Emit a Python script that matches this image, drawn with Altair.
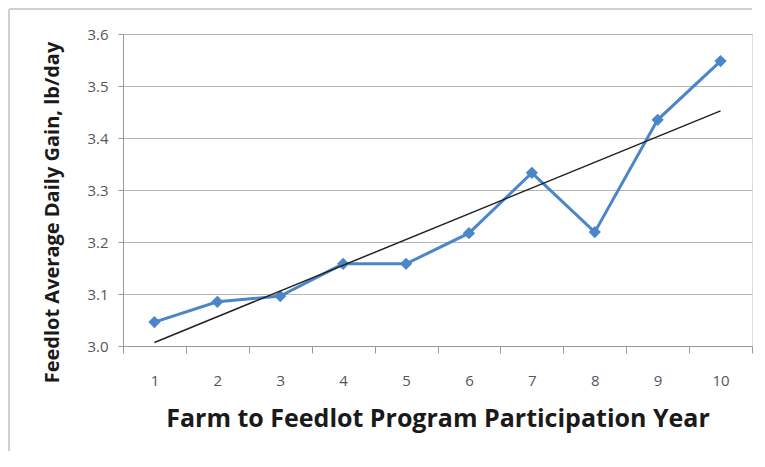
import altair as alt
import pandas as pd

years = [1, 2, 3, 4, 5, 6, 7, 8, 9, 10]
gain = [3.046, 3.085, 3.096, 3.158, 3.158, 3.217, 3.333, 3.219, 3.435, 3.548]
y_ticks = [3.0, 3.1, 3.2, 3.3, 3.4, 3.5, 3.6]

df = pd.DataFrame({"year": years, "gain": gain})

W, H = 629, 312
FONT = "Open Sans"

x_enc = alt.X(
    "year:O",
    scale=alt.Scale(type="band", paddingInner=0, paddingOuter=0),
    axis=alt.Axis(
        title="Farm to Feedlot Program Participation Year",
        titleFontSize=25, titleFont=FONT, titleFontWeight="bold", titleColor="#1a1a1a",
        titlePadding=18,
        labelAngle=0, labelFont=FONT, labelFontSize=15, labelColor="#555560",
        labelPadding=20, tickBand="extent", tickSize=7, tickColor="#999999",
        domainColor="#999999", grid=False,
    ),
)
y_enc = alt.Y(
    "gain:Q",
    scale=alt.Scale(domain=[3.0, 3.6], nice=False, zero=False),
    axis=alt.Axis(
        title="Feedlot Average Daily Gain, lb/day",
        titleFontSize=20, titleFont=FONT, titleFontWeight="bold", titleColor="#1a1a1a",
        titlePadding=24, titleY=H / 2 + 22,
        values=y_ticks, format=".1f", labelFont=FONT, labelFontSize=15,
        labelColor="#555560", labelPadding=10, tickSize=5, tickColor="#999999",
        domainColor="#999999", grid=True, gridColor="#b5b5b5",
    ),
)

line = alt.Chart(df).mark_line(
    color="#4A86C8", strokeWidth=3,
    point=alt.OverlayMarkDef(shape="diamond", size=150, filled=True, color="#4A86C8"),
).encode(x=x_enc, y=y_enc)

trend = alt.Chart(df).transform_regression("year", "gain", method="linear").mark_line(
    color="#222222", strokeWidth=1.5
).encode(x=alt.X("year:O"), y=alt.Y("gain:Q"))

frame_top = alt.Chart(df).mark_rule(color="#d0d0d0", strokeWidth=2).encode(
    x=alt.value(-114), x2=alt.value(W), y=alt.value(-25)
)
frame_left = alt.Chart(df).mark_rule(color="#d0d0d0", strokeWidth=2).encode(
    x=alt.value(-114), y=alt.value(-25), y2=alt.value(H + 105)
)

chart = alt.layer(frame_top, frame_left, line, trend).properties(
    width=W, height=H, padding=0
).configure_view(stroke=None).configure(background="white")

chart.save("out.html", embed_options={"renderer": "svg", "actions": False})
